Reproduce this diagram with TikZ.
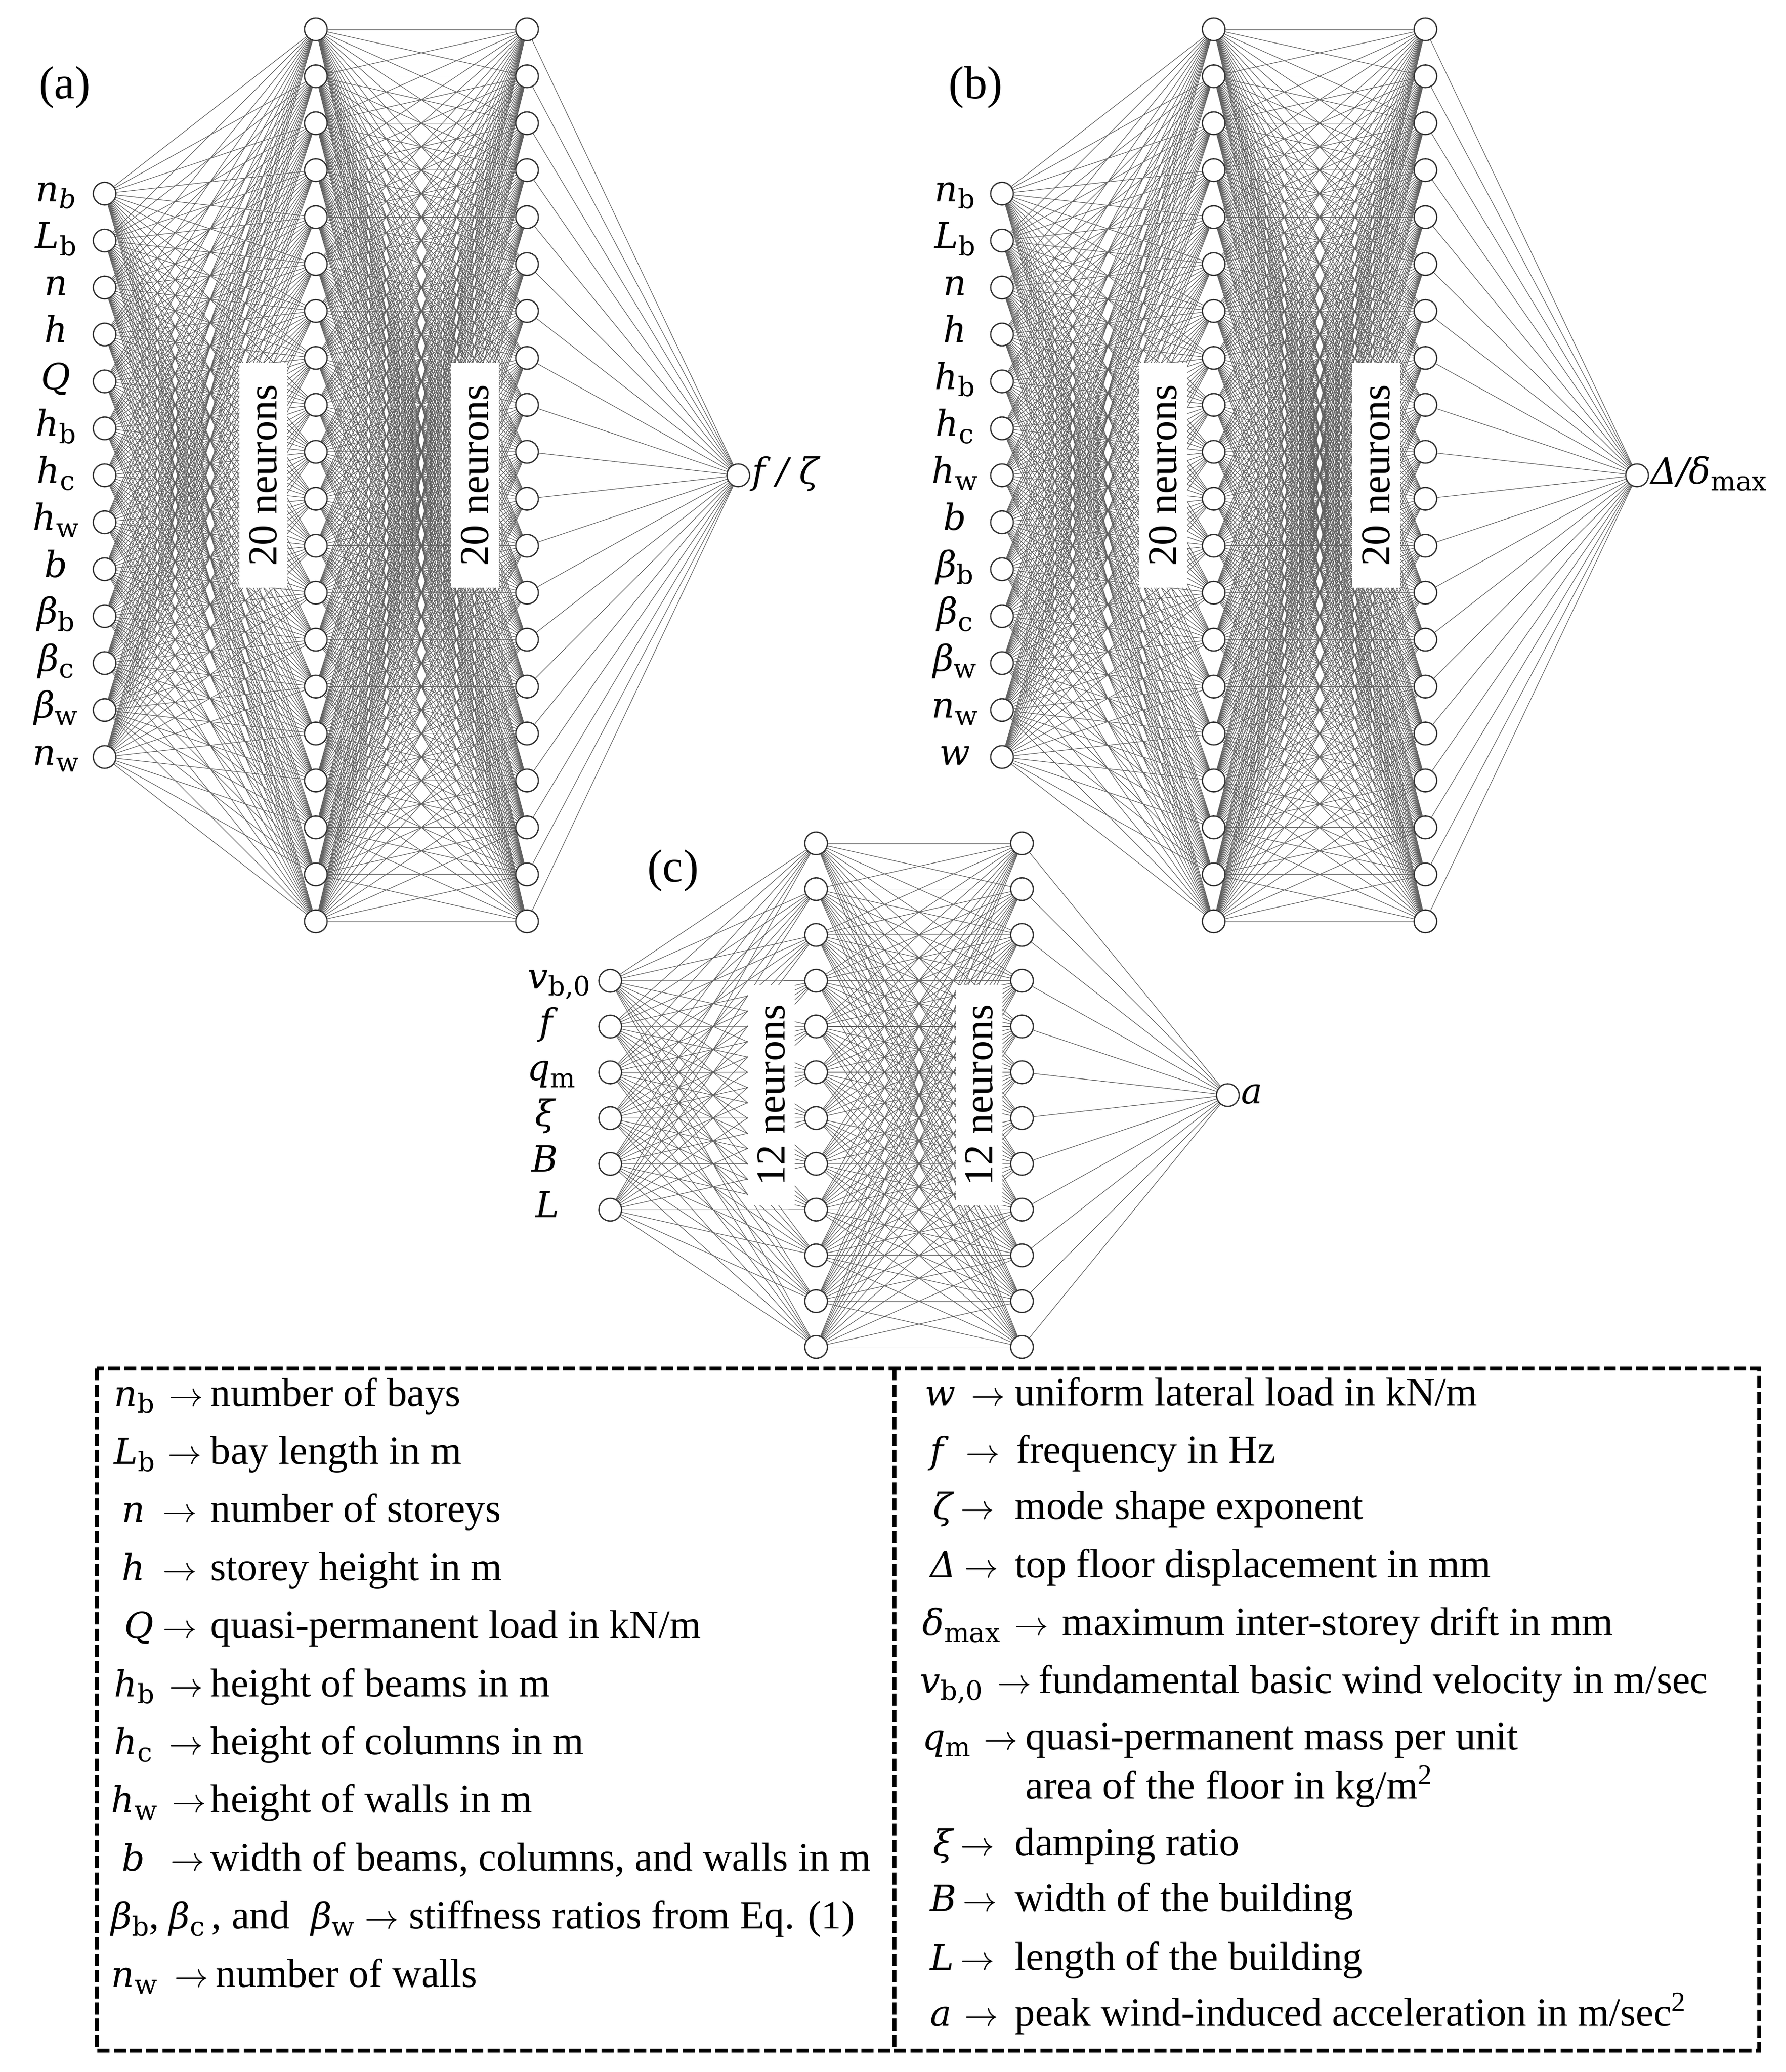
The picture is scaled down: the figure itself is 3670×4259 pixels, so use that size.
\RequirePackage{fix-cm}
\documentclass[tikz,border=0pt]{standalone}
\usepackage{amsmath}
\usepackage{fontspec}
\setmainfont{Liberation Serif}
\newfontfamily\symfont{DejaVu Serif}
\newcommand\symit[1]{{\symfont\itshape #1}}
\newcommand\symsub[2]{{\symfont\textit{#1}\raisebox{-0.2em}{\scalebox{0.74}{#2}}}}
\newcommand\labfont{\fontsize{21}{25}\selectfont}
\newcommand\lsz{\fontsize{21}{25}\selectfont}
\newcommand\legfont{\fontsize{23.5}{28}\selectfont}
\newcommand\neufont{\fontsize{24}{28}\selectfont}
\newcommand\panfont{\fontsize{27}{32}\selectfont}
\newcommand\legarrow{{\fontsize{20}{24}\selectfont$\rightarrow$}}
\pgfdeclarelayer{edges}
\pgfsetlayers{edges,main}
\tikzset{
  neuron/.style={circle, draw=black!80, line width=0.75pt, fill=white, minimum size=0.466cm, inner sep=0pt},
  conn/.style={draw=black!62, line width=0.35pt},
  lab/.style={font=\labfont, inner sep=0pt, anchor=base},
  neubox/.style={fill=white, rotate=90, font=\neufont, inner sep=0pt, minimum width=4.62cm, minimum height=0.98cm},
  neuboxc/.style={fill=white, rotate=90, font=\neufont, inner sep=0pt, minimum width=4.52cm, minimum height=0.95cm},
  panel/.style={font=\panfont, inner sep=0pt},
  leg/.style={font=\legfont, inner sep=0pt, anchor=base west},
  legarr/.style={font=\legfont, inner sep=0pt, anchor=base},
  legbox/.style={draw=black, line width=2.1pt, dash pattern=on 7.1pt off 2.4pt}
}
\newcommand\LegRow[7]{%
  \node[leg] (#1s) at (#3,#2) {\lsz #4};
  \node[legarr] (#1a) at (#5,#2) {\legarrow};
  \node[leg] (#1t) at (#6,#2) {#7};}
\begin{document}
\begin{tikzpicture}[x=0.01cm, y=-0.01cm]
\useasboundingbox (0,0) rectangle (3670,4259);
% ---------------- (a) ----------------
\foreach \i in {1,...,13} \node[neuron] (ai\i) at (215,{398+(\i-1)*96.5}) {};
\foreach \j in {1,...,20} \node[neuron] (ah\j) at (649,{60.25+(\j-1)*96.5}) {};
\foreach \j in {1,...,20} \node[neuron] (ag\j) at (1083,{60.25+(\j-1)*96.5}) {};
\node[neuron] (ao) at (1517,977) {};
% ---------------- (b) ----------------
\foreach \i in {1,...,13} \node[neuron] (bi\i) at (2059,{398+(\i-1)*96.5}) {};
\foreach \j in {1,...,20} \node[neuron] (bh\j) at (2494,{60.25+(\j-1)*96.5}) {};
\foreach \j in {1,...,20} \node[neuron] (bg\j) at (2929,{60.25+(\j-1)*96.5}) {};
\node[neuron] (bo) at (3364,977) {};
% ---------------- (c) ----------------
\foreach \i in {1,...,6} \node[neuron] (ci\i) at (1254,{2016+(\i-1)*94.1}) {};
\foreach \j in {1,...,12} \node[neuron] (ch\j) at (1677,{1733.5+(\j-1)*94.1}) {};
\foreach \j in {1,...,12} \node[neuron] (cg\j) at (2100,{1733.5+(\j-1)*94.1}) {};
\node[neuron] (co) at (2523,2251) {};
% ---------------- connectors ----------------
\begin{pgfonlayer}{edges}
\foreach \i in {1,...,13}{\foreach \j in {1,...,20}{\draw[conn] (ai\i) -- (ah\j); \draw[conn] (bi\i) -- (bh\j);}}
\foreach \i in {1,...,20}{\foreach \j in {1,...,20}{\draw[conn] (ah\i) -- (ag\j); \draw[conn] (bh\i) -- (bg\j);}}
\foreach \j in {1,...,20}{\draw[conn] (ag\j) -- (ao); \draw[conn] (bg\j) -- (bo);}
\foreach \i in {1,...,6}{\foreach \j in {1,...,12}{\draw[conn] (ci\i) -- (ch\j);}}
\foreach \i in {1,...,12}{\foreach \j in {1,...,12}{\draw[conn] (ch\i) -- (cg\j);}}
\foreach \j in {1,...,12}{\draw[conn] (cg\j) -- (co);}
\end{pgfonlayer}
% ---------------- layer boxes ----------------
\node[neubox] (abox1) at (541,977) {20 neurons};
\node[neubox] (abox2) at (976,977) {20 neurons};
\node[neubox] (bbox1) at (2390,977) {20 neurons};
\node[neubox] (bbox2) at (2828,977) {20 neurons};
\node[neuboxc] (cbox1) at (1585,2251) {12 neurons};
\node[neuboxc] (cbox2) at (2012,2251) {12 neurons};
% ---------------- labels ----------------
\node[panel] (pa) at (133,180) {(a)};
\node[panel] (pb) at (2005,180) {(b)};
\node[panel] (pc) at (1383,1790) {(c)};
\foreach \s [count=\i] in {{\symsub{n}{\itshape b}},\symsub{L}{b},\symit{n},\symit{h},\symit{Q},\symsub{h}{b},\symsub{h}{c},\symsub{h}{w},\symit{b},\symsub{β}{b},\symsub{β}{c},\symsub{β}{w},\symsub{n}{w}}
  \node[lab] (al\i) at (115,{398+(\i-1)*96.5+16}) {\s};
\foreach \s [count=\i] in {\symsub{n}{b},\symsub{L}{b},\symit{n},\symit{h},\symsub{h}{b},\symsub{h}{c},\symsub{h}{w},\symit{b},\symsub{β}{b},\symsub{β}{c},\symsub{β}{w},\symsub{n}{w},\symit{w}}
  \node[lab] (bl\i) at (1962,{398+(\i-1)*96.5+16}) {\s};
\foreach \s/\xx [count=\i] in {{\symsub{v}{b,0}}/1149,\symit{f}/1122,\symsub{q}{m}/1133,\symit{ξ}/1120,\symit{B}/1120,\symit{L}/1125}
  \node[lab] (cl\i) at (\xx,{2016+(\i-1)*94.1+16}) {\s};
\node[lab, anchor=base west] (aol) at (1545,994) {\symit{f\hspace{0.3em}/\hspace{0.3em}ζ}};
\node[lab, anchor=base west] (bol) at (3392,994) {\symit{Δ/}\symsub{δ}{max}};
\node[lab, anchor=base west] (col) at (2550,2268) {\symit{a}};
% ---------------- legend ----------------
\coordinate (lgtl) at (199,2813);
\coordinate (lgbr) at (3615,4215);
\coordinate (dvt) at (1838,2813);
\coordinate (dvb) at (1838,4215);
\draw[legbox] (lgtl) rectangle (lgbr);
\draw[legbox] (dvt) -- (dvb);
\LegRow{l1}{2890}{234}{\symsub{n}{b}}{383}{432}{number of bays}
\LegRow{l2}{3009.4}{234}{\symsub{L}{b}}{380}{432}{bay length in m}
\LegRow{l3}{3128.8}{250}{\symit{n}}{370}{432}{number of storeys}
\LegRow{l4}{3248.2}{250}{\symit{h}}{370}{432}{storey height in m}
\LegRow{l5}{3367.6}{255}{\symit{Q}}{370}{432}{quasi-permanent load in kN/m}
\LegRow{l6}{3487}{234}{\symsub{h}{b}}{383}{432}{height of beams in m}
\LegRow{l7}{3606.4}{234}{\symsub{h}{c}}{383}{432}{height of columns in m}
\LegRow{l8}{3725.8}{228}{\symsub{h}{w}}{389}{432}{height of walls in m}
\LegRow{l9}{3845.2}{250}{\symit{b}}{386}{432}{width of beams, columns, and walls in m}
\node[leg] (l10) at (228,3964.6) {{\lsz\symsub{β}{b}}, {\lsz\symsub{β}{c}}\,, and\; {\lsz\symsub{β}{w}} \legarrow\ stiffness ratios from Eq. (1)};
\LegRow{l11}{4084}{228}{\symsub{n}{w}}{394}{443}{number of walls}
\LegRow{r1}{2889}{1900}{\symit{w}}{2031}{2085}{uniform lateral load in kN/m}
\LegRow{r2}{3007}{1911}{\symit{f}}{2020}{2088}{frequency in Hz}
\LegRow{r3}{3122}{1917}{\symit{ζ}}{2009}{2085}{mode shape exponent}
\LegRow{r4}{3242}{1911}{\symit{Δ}}{2017}{2085}{top floor displacement in mm}
\LegRow{r5}{3361}{1895}{\symsub{δ}{max}}{2120}{2182}{maximum inter-storey drift in mm}
\LegRow{r6}{3480}{1890}{\symsub{v}{b,0}}{2085}{2134}{fundamental basic wind velocity in m/sec}
\LegRow{r7}{3596}{1895}{\symsub{q}{m}}{2057}{2107}{quasi-permanent mass per unit}
\node[leg] (r7b) at (2107,3697) {area of the floor in kg/m\textsuperscript{2}};
\LegRow{r8}{3814}{1917}{\symit{ξ}}{2009}{2085}{damping ratio}
\LegRow{r9}{3928}{1911}{\symit{B}}{2014}{2085}{width of the building}
\LegRow{r10}{4049}{1911}{\symit{L}}{2009}{2085}{length of the building}
\LegRow{r11}{4164}{1911}{\symit{a}}{2017}{2085}{peak wind-induced acceleration in m/sec\textsuperscript{2}}
\end{tikzpicture}
\end{document}
